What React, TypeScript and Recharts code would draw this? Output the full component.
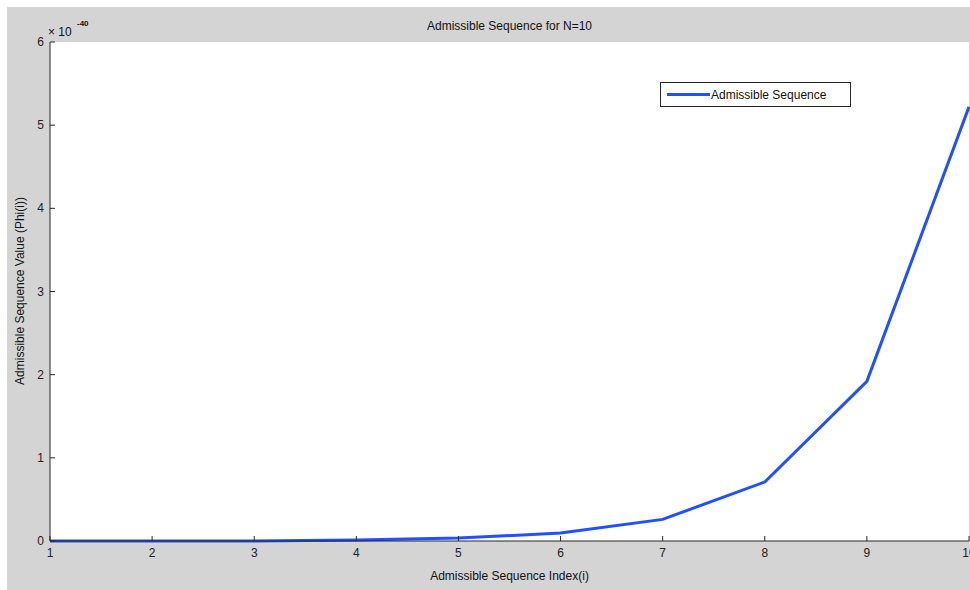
import React from "react";
import { LineChart, Line, XAxis, YAxis, CartesianGrid, Legend } from "recharts";

const indices = [1, 2, 3, 4, 5, 6, 7, 8, 9, 10];
// Phi(i) in units of 1e-40
const phiValues = [0, 0, 0.0007, 0.012, 0.035, 0.095, 0.26, 0.71, 1.92, 5.22];
const xTicks = [1, 2, 3, 4, 5, 6, 7, 8, 9, 10];
const yTicks = [0, 1, 2, 3, 4, 5, 6];

const data = indices.map((i, k) => ({ i, phi: phiValues[k] }));

const AXIS = "#262626";
const LINE = "#2150ff";
const FONT = "'Liberation Sans', Arial, sans-serif";

const BottomTick = ({ x, y, payload }: any) => (
  <g>
    <line x1={x} x2={x} y1={y} y2={y - 5} stroke={AXIS} />
    <text x={x} y={y + 16} textAnchor="middle" fontSize={12} fill="#222" fontFamily={FONT}>
      {payload.value}
    </text>
  </g>
);

const TopTick = ({ x, y }: any) => <line x1={x} x2={x} y1={y} y2={y + 5} stroke={AXIS} />;

const LeftTick = ({ x, y, payload }: any) => (
  <g>
    <line x1={x} x2={x + 5} y1={y} y2={y} stroke={AXIS} />
    <text x={x - 6} y={y + 4} textAnchor="end" fontSize={12} fill="#222" fontFamily={FONT}>
      {payload.value}
    </text>
  </g>
);

const RightTick = ({ x, y }: any) => <line x1={x} x2={x - 5} y1={y} y2={y} stroke={AXIS} />;

const LegendBox = () => (
  <div
    style={{
      width: 189,
      height: 23,
      border: `1px solid ${AXIS}`,
      background: "#fff",
      display: "flex",
      alignItems: "center",
      fontFamily: FONT,
      fontSize: 12,
      color: "#111",
    }}
  >
    <svg width={50} height={23}>
      <line x1={6} x2={49} y1={11.5} y2={11.5} stroke={LINE} strokeWidth={3} />
    </svg>
    <span>Admissible Sequence</span>
  </div>
);

export default function App() {
  return (
    <div style={{ position: "absolute", left: 7, top: 7, width: 963, height: 583, background: "#d4d4d4", fontFamily: FONT }}>
      <div style={{ position: "absolute", left: 43, width: 919, top: 12, textAlign: "center", fontSize: 12, lineHeight: "14px", color: "#111" }}>
        Admissible Sequence for N=10
      </div>
      <div style={{ position: "absolute", left: 41, top: 18, fontSize: 12, lineHeight: "14px", color: "#111" }}>
        × 10
      </div>
      <div style={{ position: "absolute", left: 70, top: 12, fontSize: 8, fontWeight: "bold", lineHeight: "10px", color: "#111" }}>
        -40
      </div>
      <div
        style={{
          position: "absolute",
          left: 13,
          top: 284,
          transform: "translate(-50%, -50%) rotate(-90deg)",
          whiteSpace: "nowrap",
          fontSize: 12,
          color: "#111",
        }}
      >
        Admissible Sequence Value (Phi(i))
      </div>
      <div style={{ position: "absolute", left: 43, width: 919, top: 562, textAlign: "center", fontSize: 12, lineHeight: "14px", color: "#111" }}>
        Admissible Sequence Index(i)
      </div>
      <LineChart width={963} height={583} data={data} margin={{ top: 35, right: 1, bottom: 0, left: 0 }}>
        <CartesianGrid horizontal={false} vertical={false} fill="#ffffff" />
        <XAxis
          xAxisId="bottom"
          dataKey="i"
          type="number"
          domain={[1, 10]}
          ticks={xTicks}
          height={49}
          tickSize={0}
          tickMargin={0}
          tickLine={false}
          axisLine={{ stroke: AXIS }}
          tick={<BottomTick />}
          interval={0}
        />
        <XAxis
          xAxisId="top"
          orientation="top"
          dataKey="i"
          type="number"
          domain={[1, 10]}
          ticks={xTicks}
          height={0}
          tickSize={0}
          tickMargin={0}
          tickLine={false}
          axisLine={{ stroke: AXIS }}
          tick={<TopTick />}
          interval={0}
        />
        <YAxis
          yAxisId="left"
          type="number"
          domain={[0, 6]}
          ticks={yTicks}
          width={43}
          tickSize={0}
          tickMargin={0}
          tickLine={false}
          axisLine={{ stroke: AXIS }}
          tick={<LeftTick />}
          interval={0}
        />
        <YAxis
          yAxisId="right"
          orientation="right"
          type="number"
          domain={[0, 6]}
          ticks={yTicks}
          width={0}
          tickSize={0}
          tickMargin={0}
          tickLine={false}
          axisLine={{ stroke: AXIS }}
          tick={<RightTick />}
          interval={0}
        />
        <Legend
          layout="vertical"
          align="center"
          verticalAlign="middle"
          content={<LegendBox />}
          wrapperStyle={{ position: "absolute", left: 653, top: 75, width: 191, height: 25 }}
        />
        <Line
          xAxisId="bottom"
          yAxisId="left"
          dataKey="phi"
          name="Admissible Sequence"
          stroke={LINE}
          strokeWidth={3}
          dot={false}
          activeDot={false}
          type="linear"
          isAnimationActive={false}
        />
      </LineChart>
    </div>
  );
}
